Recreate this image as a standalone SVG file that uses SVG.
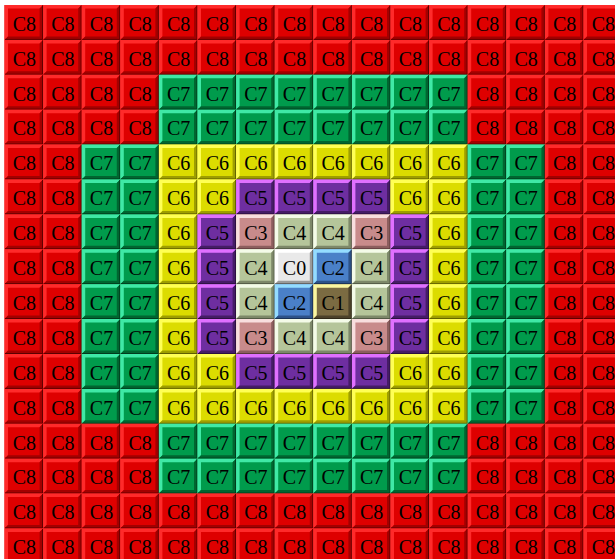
<svg xmlns="http://www.w3.org/2000/svg" xmlns:xlink="http://www.w3.org/1999/xlink" width="615" height="559" viewBox="0 0 615 559">
<style>
text{font-family:"Liberation Serif","Times New Roman",serif;font-size:20px;text-anchor:middle;fill:#000}
</style>
<defs>
<polygon id="hp" points="0,0 38.6,0 35.1,3.5 3.5,3.5 3.5,31.4 0,34.9"/>
<polygon id="sp" points="38.6,0 38.6,34.9 0,34.9 3.5,31.4 35.1,31.4 35.1,3.5"/>
<path id="ep" d="M38.1,0.5 V34.4 H0.5" fill="none" stroke-width="1"/>
<g id="c8"><rect width="38.6" height="34.9" fill="#de0000"/><use href="#hp" fill="#ff2a2a"/><use href="#sp" fill="#a30000"/><use href="#ep" stroke="#5a0000"/></g>
<g id="c7"><rect width="38.6" height="34.9" fill="#009b4c"/><use href="#hp" fill="#3fe9a6"/><use href="#sp" fill="#006530"/><use href="#ep" stroke="#003a1c"/></g>
<g id="c6"><rect width="38.6" height="34.9" fill="#dcdc00"/><use href="#hp" fill="#ffff55"/><use href="#sp" fill="#9e9e00"/><use href="#ep" stroke="#5e5e00"/></g>
<g id="c5"><rect width="38.6" height="34.9" fill="#6e2ea0"/><use href="#hp" fill="#e070ff"/><use href="#sp" fill="#451c66"/><use href="#ep" stroke="#2a103e"/></g>
<g id="c4"><rect width="38.6" height="34.9" fill="#b5c59a"/><use href="#hp" fill="#f4fbe8"/><use href="#sp" fill="#7d8869"/><use href="#ep" stroke="#4f5642"/></g>
<g id="c3"><rect width="38.6" height="34.9" fill="#c88b8b"/><use href="#hp" fill="#f8dede"/><use href="#sp" fill="#8c5e5e"/><use href="#ep" stroke="#5a3a3a"/></g>
<g id="c2"><rect width="38.6" height="34.9" fill="#4a80c8"/><use href="#hp" fill="#94dcff"/><use href="#sp" fill="#2d5288"/><use href="#ep" stroke="#1a3050"/></g>
<g id="c1"><rect width="38.6" height="34.9" fill="#7b6b42"/><use href="#hp" fill="#fbf6a0"/><use href="#sp" fill="#4c422a"/><use href="#ep" stroke="#2e2818"/></g>
<g id="c0"><rect width="38.6" height="34.9" fill="#e9e9e9"/><use href="#hp" fill="#ffffff"/><use href="#sp" fill="#9a9a9a"/><use href="#ep" stroke="#5a5a5a"/></g>
</defs>
<rect width="615" height="559" fill="#ffffff"/>
<g id="grid">
<g id="r0c0" transform="translate(4.5 5)"><use href="#c8"/><text x="19.8" y="25.8">C8</text></g>
<g id="r0c1" transform="translate(43.1 5)"><use href="#c8"/><text x="19.8" y="25.8">C8</text></g>
<g id="r0c2" transform="translate(81.7 5)"><use href="#c8"/><text x="19.8" y="25.8">C8</text></g>
<g id="r0c3" transform="translate(120.3 5)"><use href="#c8"/><text x="19.8" y="25.8">C8</text></g>
<g id="r0c4" transform="translate(158.9 5)"><use href="#c8"/><text x="19.8" y="25.8">C8</text></g>
<g id="r0c5" transform="translate(197.5 5)"><use href="#c8"/><text x="19.8" y="25.8">C8</text></g>
<g id="r0c6" transform="translate(236.1 5)"><use href="#c8"/><text x="19.8" y="25.8">C8</text></g>
<g id="r0c7" transform="translate(274.7 5)"><use href="#c8"/><text x="19.8" y="25.8">C8</text></g>
<g id="r0c8" transform="translate(313.3 5)"><use href="#c8"/><text x="19.8" y="25.8">C8</text></g>
<g id="r0c9" transform="translate(351.9 5)"><use href="#c8"/><text x="19.8" y="25.8">C8</text></g>
<g id="r0c10" transform="translate(390.5 5)"><use href="#c8"/><text x="19.8" y="25.8">C8</text></g>
<g id="r0c11" transform="translate(429.1 5)"><use href="#c8"/><text x="19.8" y="25.8">C8</text></g>
<g id="r0c12" transform="translate(467.7 5)"><use href="#c8"/><text x="19.8" y="25.8">C8</text></g>
<g id="r0c13" transform="translate(506.3 5)"><use href="#c8"/><text x="19.8" y="25.8">C8</text></g>
<g id="r0c14" transform="translate(544.9 5)"><use href="#c8"/><text x="19.8" y="25.8">C8</text></g>
<g id="r0c15" transform="translate(583.5 5)"><use href="#c8"/><text x="19.8" y="25.8">C8</text></g>

<g id="r1c0" transform="translate(4.5 39.9)"><use href="#c8"/><text x="19.8" y="25.8">C8</text></g>
<g id="r1c1" transform="translate(43.1 39.9)"><use href="#c8"/><text x="19.8" y="25.8">C8</text></g>
<g id="r1c2" transform="translate(81.7 39.9)"><use href="#c8"/><text x="19.8" y="25.8">C8</text></g>
<g id="r1c3" transform="translate(120.3 39.9)"><use href="#c8"/><text x="19.8" y="25.8">C8</text></g>
<g id="r1c4" transform="translate(158.9 39.9)"><use href="#c8"/><text x="19.8" y="25.8">C8</text></g>
<g id="r1c5" transform="translate(197.5 39.9)"><use href="#c8"/><text x="19.8" y="25.8">C8</text></g>
<g id="r1c6" transform="translate(236.1 39.9)"><use href="#c8"/><text x="19.8" y="25.8">C8</text></g>
<g id="r1c7" transform="translate(274.7 39.9)"><use href="#c8"/><text x="19.8" y="25.8">C8</text></g>
<g id="r1c8" transform="translate(313.3 39.9)"><use href="#c8"/><text x="19.8" y="25.8">C8</text></g>
<g id="r1c9" transform="translate(351.9 39.9)"><use href="#c8"/><text x="19.8" y="25.8">C8</text></g>
<g id="r1c10" transform="translate(390.5 39.9)"><use href="#c8"/><text x="19.8" y="25.8">C8</text></g>
<g id="r1c11" transform="translate(429.1 39.9)"><use href="#c8"/><text x="19.8" y="25.8">C8</text></g>
<g id="r1c12" transform="translate(467.7 39.9)"><use href="#c8"/><text x="19.8" y="25.8">C8</text></g>
<g id="r1c13" transform="translate(506.3 39.9)"><use href="#c8"/><text x="19.8" y="25.8">C8</text></g>
<g id="r1c14" transform="translate(544.9 39.9)"><use href="#c8"/><text x="19.8" y="25.8">C8</text></g>
<g id="r1c15" transform="translate(583.5 39.9)"><use href="#c8"/><text x="19.8" y="25.8">C8</text></g>

<g id="r2c0" transform="translate(4.5 74.8)"><use href="#c8"/><text x="19.8" y="25.8">C8</text></g>
<g id="r2c1" transform="translate(43.1 74.8)"><use href="#c8"/><text x="19.8" y="25.8">C8</text></g>
<g id="r2c2" transform="translate(81.7 74.8)"><use href="#c8"/><text x="19.8" y="25.8">C8</text></g>
<g id="r2c3" transform="translate(120.3 74.8)"><use href="#c8"/><text x="19.8" y="25.8">C8</text></g>
<g id="r2c4" transform="translate(158.9 74.8)"><use href="#c7"/><text x="19.8" y="25.8">C7</text></g>
<g id="r2c5" transform="translate(197.5 74.8)"><use href="#c7"/><text x="19.8" y="25.8">C7</text></g>
<g id="r2c6" transform="translate(236.1 74.8)"><use href="#c7"/><text x="19.8" y="25.8">C7</text></g>
<g id="r2c7" transform="translate(274.7 74.8)"><use href="#c7"/><text x="19.8" y="25.8">C7</text></g>
<g id="r2c8" transform="translate(313.3 74.8)"><use href="#c7"/><text x="19.8" y="25.8">C7</text></g>
<g id="r2c9" transform="translate(351.9 74.8)"><use href="#c7"/><text x="19.8" y="25.8">C7</text></g>
<g id="r2c10" transform="translate(390.5 74.8)"><use href="#c7"/><text x="19.8" y="25.8">C7</text></g>
<g id="r2c11" transform="translate(429.1 74.8)"><use href="#c7"/><text x="19.8" y="25.8">C7</text></g>
<g id="r2c12" transform="translate(467.7 74.8)"><use href="#c8"/><text x="19.8" y="25.8">C8</text></g>
<g id="r2c13" transform="translate(506.3 74.8)"><use href="#c8"/><text x="19.8" y="25.8">C8</text></g>
<g id="r2c14" transform="translate(544.9 74.8)"><use href="#c8"/><text x="19.8" y="25.8">C8</text></g>
<g id="r2c15" transform="translate(583.5 74.8)"><use href="#c8"/><text x="19.8" y="25.8">C8</text></g>

<g id="r3c0" transform="translate(4.5 109.7)"><use href="#c8"/><text x="19.8" y="25.8">C8</text></g>
<g id="r3c1" transform="translate(43.1 109.7)"><use href="#c8"/><text x="19.8" y="25.8">C8</text></g>
<g id="r3c2" transform="translate(81.7 109.7)"><use href="#c8"/><text x="19.8" y="25.8">C8</text></g>
<g id="r3c3" transform="translate(120.3 109.7)"><use href="#c8"/><text x="19.8" y="25.8">C8</text></g>
<g id="r3c4" transform="translate(158.9 109.7)"><use href="#c7"/><text x="19.8" y="25.8">C7</text></g>
<g id="r3c5" transform="translate(197.5 109.7)"><use href="#c7"/><text x="19.8" y="25.8">C7</text></g>
<g id="r3c6" transform="translate(236.1 109.7)"><use href="#c7"/><text x="19.8" y="25.8">C7</text></g>
<g id="r3c7" transform="translate(274.7 109.7)"><use href="#c7"/><text x="19.8" y="25.8">C7</text></g>
<g id="r3c8" transform="translate(313.3 109.7)"><use href="#c7"/><text x="19.8" y="25.8">C7</text></g>
<g id="r3c9" transform="translate(351.9 109.7)"><use href="#c7"/><text x="19.8" y="25.8">C7</text></g>
<g id="r3c10" transform="translate(390.5 109.7)"><use href="#c7"/><text x="19.8" y="25.8">C7</text></g>
<g id="r3c11" transform="translate(429.1 109.7)"><use href="#c7"/><text x="19.8" y="25.8">C7</text></g>
<g id="r3c12" transform="translate(467.7 109.7)"><use href="#c8"/><text x="19.8" y="25.8">C8</text></g>
<g id="r3c13" transform="translate(506.3 109.7)"><use href="#c8"/><text x="19.8" y="25.8">C8</text></g>
<g id="r3c14" transform="translate(544.9 109.7)"><use href="#c8"/><text x="19.8" y="25.8">C8</text></g>
<g id="r3c15" transform="translate(583.5 109.7)"><use href="#c8"/><text x="19.8" y="25.8">C8</text></g>

<g id="r4c0" transform="translate(4.5 144.6)"><use href="#c8"/><text x="19.8" y="25.8">C8</text></g>
<g id="r4c1" transform="translate(43.1 144.6)"><use href="#c8"/><text x="19.8" y="25.8">C8</text></g>
<g id="r4c2" transform="translate(81.7 144.6)"><use href="#c7"/><text x="19.8" y="25.8">C7</text></g>
<g id="r4c3" transform="translate(120.3 144.6)"><use href="#c7"/><text x="19.8" y="25.8">C7</text></g>
<g id="r4c4" transform="translate(158.9 144.6)"><use href="#c6"/><text x="19.8" y="25.8">C6</text></g>
<g id="r4c5" transform="translate(197.5 144.6)"><use href="#c6"/><text x="19.8" y="25.8">C6</text></g>
<g id="r4c6" transform="translate(236.1 144.6)"><use href="#c6"/><text x="19.8" y="25.8">C6</text></g>
<g id="r4c7" transform="translate(274.7 144.6)"><use href="#c6"/><text x="19.8" y="25.8">C6</text></g>
<g id="r4c8" transform="translate(313.3 144.6)"><use href="#c6"/><text x="19.8" y="25.8">C6</text></g>
<g id="r4c9" transform="translate(351.9 144.6)"><use href="#c6"/><text x="19.8" y="25.8">C6</text></g>
<g id="r4c10" transform="translate(390.5 144.6)"><use href="#c6"/><text x="19.8" y="25.8">C6</text></g>
<g id="r4c11" transform="translate(429.1 144.6)"><use href="#c6"/><text x="19.8" y="25.8">C6</text></g>
<g id="r4c12" transform="translate(467.7 144.6)"><use href="#c7"/><text x="19.8" y="25.8">C7</text></g>
<g id="r4c13" transform="translate(506.3 144.6)"><use href="#c7"/><text x="19.8" y="25.8">C7</text></g>
<g id="r4c14" transform="translate(544.9 144.6)"><use href="#c8"/><text x="19.8" y="25.8">C8</text></g>
<g id="r4c15" transform="translate(583.5 144.6)"><use href="#c8"/><text x="19.8" y="25.8">C8</text></g>

<g id="r5c0" transform="translate(4.5 179.5)"><use href="#c8"/><text x="19.8" y="25.8">C8</text></g>
<g id="r5c1" transform="translate(43.1 179.5)"><use href="#c8"/><text x="19.8" y="25.8">C8</text></g>
<g id="r5c2" transform="translate(81.7 179.5)"><use href="#c7"/><text x="19.8" y="25.8">C7</text></g>
<g id="r5c3" transform="translate(120.3 179.5)"><use href="#c7"/><text x="19.8" y="25.8">C7</text></g>
<g id="r5c4" transform="translate(158.9 179.5)"><use href="#c6"/><text x="19.8" y="25.8">C6</text></g>
<g id="r5c5" transform="translate(197.5 179.5)"><use href="#c6"/><text x="19.8" y="25.8">C6</text></g>
<g id="r5c6" transform="translate(236.1 179.5)"><use href="#c5"/><text x="19.8" y="25.8">C5</text></g>
<g id="r5c7" transform="translate(274.7 179.5)"><use href="#c5"/><text x="19.8" y="25.8">C5</text></g>
<g id="r5c8" transform="translate(313.3 179.5)"><use href="#c5"/><text x="19.8" y="25.8">C5</text></g>
<g id="r5c9" transform="translate(351.9 179.5)"><use href="#c5"/><text x="19.8" y="25.8">C5</text></g>
<g id="r5c10" transform="translate(390.5 179.5)"><use href="#c6"/><text x="19.8" y="25.8">C6</text></g>
<g id="r5c11" transform="translate(429.1 179.5)"><use href="#c6"/><text x="19.8" y="25.8">C6</text></g>
<g id="r5c12" transform="translate(467.7 179.5)"><use href="#c7"/><text x="19.8" y="25.8">C7</text></g>
<g id="r5c13" transform="translate(506.3 179.5)"><use href="#c7"/><text x="19.8" y="25.8">C7</text></g>
<g id="r5c14" transform="translate(544.9 179.5)"><use href="#c8"/><text x="19.8" y="25.8">C8</text></g>
<g id="r5c15" transform="translate(583.5 179.5)"><use href="#c8"/><text x="19.8" y="25.8">C8</text></g>

<g id="r6c0" transform="translate(4.5 214.4)"><use href="#c8"/><text x="19.8" y="25.8">C8</text></g>
<g id="r6c1" transform="translate(43.1 214.4)"><use href="#c8"/><text x="19.8" y="25.8">C8</text></g>
<g id="r6c2" transform="translate(81.7 214.4)"><use href="#c7"/><text x="19.8" y="25.8">C7</text></g>
<g id="r6c3" transform="translate(120.3 214.4)"><use href="#c7"/><text x="19.8" y="25.8">C7</text></g>
<g id="r6c4" transform="translate(158.9 214.4)"><use href="#c6"/><text x="19.8" y="25.8">C6</text></g>
<g id="r6c5" transform="translate(197.5 214.4)"><use href="#c5"/><text x="19.8" y="25.8">C5</text></g>
<g id="r6c6" transform="translate(236.1 214.4)"><use href="#c3"/><text x="19.8" y="25.8">C3</text></g>
<g id="r6c7" transform="translate(274.7 214.4)"><use href="#c4"/><text x="19.8" y="25.8">C4</text></g>
<g id="r6c8" transform="translate(313.3 214.4)"><use href="#c4"/><text x="19.8" y="25.8">C4</text></g>
<g id="r6c9" transform="translate(351.9 214.4)"><use href="#c3"/><text x="19.8" y="25.8">C3</text></g>
<g id="r6c10" transform="translate(390.5 214.4)"><use href="#c5"/><text x="19.8" y="25.8">C5</text></g>
<g id="r6c11" transform="translate(429.1 214.4)"><use href="#c6"/><text x="19.8" y="25.8">C6</text></g>
<g id="r6c12" transform="translate(467.7 214.4)"><use href="#c7"/><text x="19.8" y="25.8">C7</text></g>
<g id="r6c13" transform="translate(506.3 214.4)"><use href="#c7"/><text x="19.8" y="25.8">C7</text></g>
<g id="r6c14" transform="translate(544.9 214.4)"><use href="#c8"/><text x="19.8" y="25.8">C8</text></g>
<g id="r6c15" transform="translate(583.5 214.4)"><use href="#c8"/><text x="19.8" y="25.8">C8</text></g>

<g id="r7c0" transform="translate(4.5 249.3)"><use href="#c8"/><text x="19.8" y="25.8">C8</text></g>
<g id="r7c1" transform="translate(43.1 249.3)"><use href="#c8"/><text x="19.8" y="25.8">C8</text></g>
<g id="r7c2" transform="translate(81.7 249.3)"><use href="#c7"/><text x="19.8" y="25.8">C7</text></g>
<g id="r7c3" transform="translate(120.3 249.3)"><use href="#c7"/><text x="19.8" y="25.8">C7</text></g>
<g id="r7c4" transform="translate(158.9 249.3)"><use href="#c6"/><text x="19.8" y="25.8">C6</text></g>
<g id="r7c5" transform="translate(197.5 249.3)"><use href="#c5"/><text x="19.8" y="25.8">C5</text></g>
<g id="r7c6" transform="translate(236.1 249.3)"><use href="#c4"/><text x="19.8" y="25.8">C4</text></g>
<g id="r7c7" transform="translate(274.7 249.3)"><use href="#c0"/><text x="19.8" y="25.8">C0</text></g>
<g id="r7c8" transform="translate(313.3 249.3)"><use href="#c2"/><text x="19.8" y="25.8">C2</text></g>
<g id="r7c9" transform="translate(351.9 249.3)"><use href="#c4"/><text x="19.8" y="25.8">C4</text></g>
<g id="r7c10" transform="translate(390.5 249.3)"><use href="#c5"/><text x="19.8" y="25.8">C5</text></g>
<g id="r7c11" transform="translate(429.1 249.3)"><use href="#c6"/><text x="19.8" y="25.8">C6</text></g>
<g id="r7c12" transform="translate(467.7 249.3)"><use href="#c7"/><text x="19.8" y="25.8">C7</text></g>
<g id="r7c13" transform="translate(506.3 249.3)"><use href="#c7"/><text x="19.8" y="25.8">C7</text></g>
<g id="r7c14" transform="translate(544.9 249.3)"><use href="#c8"/><text x="19.8" y="25.8">C8</text></g>
<g id="r7c15" transform="translate(583.5 249.3)"><use href="#c8"/><text x="19.8" y="25.8">C8</text></g>

<g id="r8c0" transform="translate(4.5 284.2)"><use href="#c8"/><text x="19.8" y="25.8">C8</text></g>
<g id="r8c1" transform="translate(43.1 284.2)"><use href="#c8"/><text x="19.8" y="25.8">C8</text></g>
<g id="r8c2" transform="translate(81.7 284.2)"><use href="#c7"/><text x="19.8" y="25.8">C7</text></g>
<g id="r8c3" transform="translate(120.3 284.2)"><use href="#c7"/><text x="19.8" y="25.8">C7</text></g>
<g id="r8c4" transform="translate(158.9 284.2)"><use href="#c6"/><text x="19.8" y="25.8">C6</text></g>
<g id="r8c5" transform="translate(197.5 284.2)"><use href="#c5"/><text x="19.8" y="25.8">C5</text></g>
<g id="r8c6" transform="translate(236.1 284.2)"><use href="#c4"/><text x="19.8" y="25.8">C4</text></g>
<g id="r8c7" transform="translate(274.7 284.2)"><use href="#c2"/><text x="19.8" y="25.8">C2</text></g>
<g id="r8c8" transform="translate(313.3 284.2)"><use href="#c1"/><text x="19.8" y="25.8">C1</text></g>
<g id="r8c9" transform="translate(351.9 284.2)"><use href="#c4"/><text x="19.8" y="25.8">C4</text></g>
<g id="r8c10" transform="translate(390.5 284.2)"><use href="#c5"/><text x="19.8" y="25.8">C5</text></g>
<g id="r8c11" transform="translate(429.1 284.2)"><use href="#c6"/><text x="19.8" y="25.8">C6</text></g>
<g id="r8c12" transform="translate(467.7 284.2)"><use href="#c7"/><text x="19.8" y="25.8">C7</text></g>
<g id="r8c13" transform="translate(506.3 284.2)"><use href="#c7"/><text x="19.8" y="25.8">C7</text></g>
<g id="r8c14" transform="translate(544.9 284.2)"><use href="#c8"/><text x="19.8" y="25.8">C8</text></g>
<g id="r8c15" transform="translate(583.5 284.2)"><use href="#c8"/><text x="19.8" y="25.8">C8</text></g>

<g id="r9c0" transform="translate(4.5 319.1)"><use href="#c8"/><text x="19.8" y="25.8">C8</text></g>
<g id="r9c1" transform="translate(43.1 319.1)"><use href="#c8"/><text x="19.8" y="25.8">C8</text></g>
<g id="r9c2" transform="translate(81.7 319.1)"><use href="#c7"/><text x="19.8" y="25.8">C7</text></g>
<g id="r9c3" transform="translate(120.3 319.1)"><use href="#c7"/><text x="19.8" y="25.8">C7</text></g>
<g id="r9c4" transform="translate(158.9 319.1)"><use href="#c6"/><text x="19.8" y="25.8">C6</text></g>
<g id="r9c5" transform="translate(197.5 319.1)"><use href="#c5"/><text x="19.8" y="25.8">C5</text></g>
<g id="r9c6" transform="translate(236.1 319.1)"><use href="#c3"/><text x="19.8" y="25.8">C3</text></g>
<g id="r9c7" transform="translate(274.7 319.1)"><use href="#c4"/><text x="19.8" y="25.8">C4</text></g>
<g id="r9c8" transform="translate(313.3 319.1)"><use href="#c4"/><text x="19.8" y="25.8">C4</text></g>
<g id="r9c9" transform="translate(351.9 319.1)"><use href="#c3"/><text x="19.8" y="25.8">C3</text></g>
<g id="r9c10" transform="translate(390.5 319.1)"><use href="#c5"/><text x="19.8" y="25.8">C5</text></g>
<g id="r9c11" transform="translate(429.1 319.1)"><use href="#c6"/><text x="19.8" y="25.8">C6</text></g>
<g id="r9c12" transform="translate(467.7 319.1)"><use href="#c7"/><text x="19.8" y="25.8">C7</text></g>
<g id="r9c13" transform="translate(506.3 319.1)"><use href="#c7"/><text x="19.8" y="25.8">C7</text></g>
<g id="r9c14" transform="translate(544.9 319.1)"><use href="#c8"/><text x="19.8" y="25.8">C8</text></g>
<g id="r9c15" transform="translate(583.5 319.1)"><use href="#c8"/><text x="19.8" y="25.8">C8</text></g>

<g id="r10c0" transform="translate(4.5 354)"><use href="#c8"/><text x="19.8" y="25.8">C8</text></g>
<g id="r10c1" transform="translate(43.1 354)"><use href="#c8"/><text x="19.8" y="25.8">C8</text></g>
<g id="r10c2" transform="translate(81.7 354)"><use href="#c7"/><text x="19.8" y="25.8">C7</text></g>
<g id="r10c3" transform="translate(120.3 354)"><use href="#c7"/><text x="19.8" y="25.8">C7</text></g>
<g id="r10c4" transform="translate(158.9 354)"><use href="#c6"/><text x="19.8" y="25.8">C6</text></g>
<g id="r10c5" transform="translate(197.5 354)"><use href="#c6"/><text x="19.8" y="25.8">C6</text></g>
<g id="r10c6" transform="translate(236.1 354)"><use href="#c5"/><text x="19.8" y="25.8">C5</text></g>
<g id="r10c7" transform="translate(274.7 354)"><use href="#c5"/><text x="19.8" y="25.8">C5</text></g>
<g id="r10c8" transform="translate(313.3 354)"><use href="#c5"/><text x="19.8" y="25.8">C5</text></g>
<g id="r10c9" transform="translate(351.9 354)"><use href="#c5"/><text x="19.8" y="25.8">C5</text></g>
<g id="r10c10" transform="translate(390.5 354)"><use href="#c6"/><text x="19.8" y="25.8">C6</text></g>
<g id="r10c11" transform="translate(429.1 354)"><use href="#c6"/><text x="19.8" y="25.8">C6</text></g>
<g id="r10c12" transform="translate(467.7 354)"><use href="#c7"/><text x="19.8" y="25.8">C7</text></g>
<g id="r10c13" transform="translate(506.3 354)"><use href="#c7"/><text x="19.8" y="25.8">C7</text></g>
<g id="r10c14" transform="translate(544.9 354)"><use href="#c8"/><text x="19.8" y="25.8">C8</text></g>
<g id="r10c15" transform="translate(583.5 354)"><use href="#c8"/><text x="19.8" y="25.8">C8</text></g>

<g id="r11c0" transform="translate(4.5 388.9)"><use href="#c8"/><text x="19.8" y="25.8">C8</text></g>
<g id="r11c1" transform="translate(43.1 388.9)"><use href="#c8"/><text x="19.8" y="25.8">C8</text></g>
<g id="r11c2" transform="translate(81.7 388.9)"><use href="#c7"/><text x="19.8" y="25.8">C7</text></g>
<g id="r11c3" transform="translate(120.3 388.9)"><use href="#c7"/><text x="19.8" y="25.8">C7</text></g>
<g id="r11c4" transform="translate(158.9 388.9)"><use href="#c6"/><text x="19.8" y="25.8">C6</text></g>
<g id="r11c5" transform="translate(197.5 388.9)"><use href="#c6"/><text x="19.8" y="25.8">C6</text></g>
<g id="r11c6" transform="translate(236.1 388.9)"><use href="#c6"/><text x="19.8" y="25.8">C6</text></g>
<g id="r11c7" transform="translate(274.7 388.9)"><use href="#c6"/><text x="19.8" y="25.8">C6</text></g>
<g id="r11c8" transform="translate(313.3 388.9)"><use href="#c6"/><text x="19.8" y="25.8">C6</text></g>
<g id="r11c9" transform="translate(351.9 388.9)"><use href="#c6"/><text x="19.8" y="25.8">C6</text></g>
<g id="r11c10" transform="translate(390.5 388.9)"><use href="#c6"/><text x="19.8" y="25.8">C6</text></g>
<g id="r11c11" transform="translate(429.1 388.9)"><use href="#c6"/><text x="19.8" y="25.8">C6</text></g>
<g id="r11c12" transform="translate(467.7 388.9)"><use href="#c7"/><text x="19.8" y="25.8">C7</text></g>
<g id="r11c13" transform="translate(506.3 388.9)"><use href="#c7"/><text x="19.8" y="25.8">C7</text></g>
<g id="r11c14" transform="translate(544.9 388.9)"><use href="#c8"/><text x="19.8" y="25.8">C8</text></g>
<g id="r11c15" transform="translate(583.5 388.9)"><use href="#c8"/><text x="19.8" y="25.8">C8</text></g>

<g id="r12c0" transform="translate(4.5 423.8)"><use href="#c8"/><text x="19.8" y="25.8">C8</text></g>
<g id="r12c1" transform="translate(43.1 423.8)"><use href="#c8"/><text x="19.8" y="25.8">C8</text></g>
<g id="r12c2" transform="translate(81.7 423.8)"><use href="#c8"/><text x="19.8" y="25.8">C8</text></g>
<g id="r12c3" transform="translate(120.3 423.8)"><use href="#c8"/><text x="19.8" y="25.8">C8</text></g>
<g id="r12c4" transform="translate(158.9 423.8)"><use href="#c7"/><text x="19.8" y="25.8">C7</text></g>
<g id="r12c5" transform="translate(197.5 423.8)"><use href="#c7"/><text x="19.8" y="25.8">C7</text></g>
<g id="r12c6" transform="translate(236.1 423.8)"><use href="#c7"/><text x="19.8" y="25.8">C7</text></g>
<g id="r12c7" transform="translate(274.7 423.8)"><use href="#c7"/><text x="19.8" y="25.8">C7</text></g>
<g id="r12c8" transform="translate(313.3 423.8)"><use href="#c7"/><text x="19.8" y="25.8">C7</text></g>
<g id="r12c9" transform="translate(351.9 423.8)"><use href="#c7"/><text x="19.8" y="25.8">C7</text></g>
<g id="r12c10" transform="translate(390.5 423.8)"><use href="#c7"/><text x="19.8" y="25.8">C7</text></g>
<g id="r12c11" transform="translate(429.1 423.8)"><use href="#c7"/><text x="19.8" y="25.8">C7</text></g>
<g id="r12c12" transform="translate(467.7 423.8)"><use href="#c8"/><text x="19.8" y="25.8">C8</text></g>
<g id="r12c13" transform="translate(506.3 423.8)"><use href="#c8"/><text x="19.8" y="25.8">C8</text></g>
<g id="r12c14" transform="translate(544.9 423.8)"><use href="#c8"/><text x="19.8" y="25.8">C8</text></g>
<g id="r12c15" transform="translate(583.5 423.8)"><use href="#c8"/><text x="19.8" y="25.8">C8</text></g>

<g id="r13c0" transform="translate(4.5 458.7)"><use href="#c8"/><text x="19.8" y="25.8">C8</text></g>
<g id="r13c1" transform="translate(43.1 458.7)"><use href="#c8"/><text x="19.8" y="25.8">C8</text></g>
<g id="r13c2" transform="translate(81.7 458.7)"><use href="#c8"/><text x="19.8" y="25.8">C8</text></g>
<g id="r13c3" transform="translate(120.3 458.7)"><use href="#c8"/><text x="19.8" y="25.8">C8</text></g>
<g id="r13c4" transform="translate(158.9 458.7)"><use href="#c7"/><text x="19.8" y="25.8">C7</text></g>
<g id="r13c5" transform="translate(197.5 458.7)"><use href="#c7"/><text x="19.8" y="25.8">C7</text></g>
<g id="r13c6" transform="translate(236.1 458.7)"><use href="#c7"/><text x="19.8" y="25.8">C7</text></g>
<g id="r13c7" transform="translate(274.7 458.7)"><use href="#c7"/><text x="19.8" y="25.8">C7</text></g>
<g id="r13c8" transform="translate(313.3 458.7)"><use href="#c7"/><text x="19.8" y="25.8">C7</text></g>
<g id="r13c9" transform="translate(351.9 458.7)"><use href="#c7"/><text x="19.8" y="25.8">C7</text></g>
<g id="r13c10" transform="translate(390.5 458.7)"><use href="#c7"/><text x="19.8" y="25.8">C7</text></g>
<g id="r13c11" transform="translate(429.1 458.7)"><use href="#c7"/><text x="19.8" y="25.8">C7</text></g>
<g id="r13c12" transform="translate(467.7 458.7)"><use href="#c8"/><text x="19.8" y="25.8">C8</text></g>
<g id="r13c13" transform="translate(506.3 458.7)"><use href="#c8"/><text x="19.8" y="25.8">C8</text></g>
<g id="r13c14" transform="translate(544.9 458.7)"><use href="#c8"/><text x="19.8" y="25.8">C8</text></g>
<g id="r13c15" transform="translate(583.5 458.7)"><use href="#c8"/><text x="19.8" y="25.8">C8</text></g>

<g id="r14c0" transform="translate(4.5 493.6)"><use href="#c8"/><text x="19.8" y="25.8">C8</text></g>
<g id="r14c1" transform="translate(43.1 493.6)"><use href="#c8"/><text x="19.8" y="25.8">C8</text></g>
<g id="r14c2" transform="translate(81.7 493.6)"><use href="#c8"/><text x="19.8" y="25.8">C8</text></g>
<g id="r14c3" transform="translate(120.3 493.6)"><use href="#c8"/><text x="19.8" y="25.8">C8</text></g>
<g id="r14c4" transform="translate(158.9 493.6)"><use href="#c8"/><text x="19.8" y="25.8">C8</text></g>
<g id="r14c5" transform="translate(197.5 493.6)"><use href="#c8"/><text x="19.8" y="25.8">C8</text></g>
<g id="r14c6" transform="translate(236.1 493.6)"><use href="#c8"/><text x="19.8" y="25.8">C8</text></g>
<g id="r14c7" transform="translate(274.7 493.6)"><use href="#c8"/><text x="19.8" y="25.8">C8</text></g>
<g id="r14c8" transform="translate(313.3 493.6)"><use href="#c8"/><text x="19.8" y="25.8">C8</text></g>
<g id="r14c9" transform="translate(351.9 493.6)"><use href="#c8"/><text x="19.8" y="25.8">C8</text></g>
<g id="r14c10" transform="translate(390.5 493.6)"><use href="#c8"/><text x="19.8" y="25.8">C8</text></g>
<g id="r14c11" transform="translate(429.1 493.6)"><use href="#c8"/><text x="19.8" y="25.8">C8</text></g>
<g id="r14c12" transform="translate(467.7 493.6)"><use href="#c8"/><text x="19.8" y="25.8">C8</text></g>
<g id="r14c13" transform="translate(506.3 493.6)"><use href="#c8"/><text x="19.8" y="25.8">C8</text></g>
<g id="r14c14" transform="translate(544.9 493.6)"><use href="#c8"/><text x="19.8" y="25.8">C8</text></g>
<g id="r14c15" transform="translate(583.5 493.6)"><use href="#c8"/><text x="19.8" y="25.8">C8</text></g>

<g id="r15c0" transform="translate(4.5 528.5)"><use href="#c8"/><text x="19.8" y="25.8">C8</text></g>
<g id="r15c1" transform="translate(43.1 528.5)"><use href="#c8"/><text x="19.8" y="25.8">C8</text></g>
<g id="r15c2" transform="translate(81.7 528.5)"><use href="#c8"/><text x="19.8" y="25.8">C8</text></g>
<g id="r15c3" transform="translate(120.3 528.5)"><use href="#c8"/><text x="19.8" y="25.8">C8</text></g>
<g id="r15c4" transform="translate(158.9 528.5)"><use href="#c8"/><text x="19.8" y="25.8">C8</text></g>
<g id="r15c5" transform="translate(197.5 528.5)"><use href="#c8"/><text x="19.8" y="25.8">C8</text></g>
<g id="r15c6" transform="translate(236.1 528.5)"><use href="#c8"/><text x="19.8" y="25.8">C8</text></g>
<g id="r15c7" transform="translate(274.7 528.5)"><use href="#c8"/><text x="19.8" y="25.8">C8</text></g>
<g id="r15c8" transform="translate(313.3 528.5)"><use href="#c8"/><text x="19.8" y="25.8">C8</text></g>
<g id="r15c9" transform="translate(351.9 528.5)"><use href="#c8"/><text x="19.8" y="25.8">C8</text></g>
<g id="r15c10" transform="translate(390.5 528.5)"><use href="#c8"/><text x="19.8" y="25.8">C8</text></g>
<g id="r15c11" transform="translate(429.1 528.5)"><use href="#c8"/><text x="19.8" y="25.8">C8</text></g>
<g id="r15c12" transform="translate(467.7 528.5)"><use href="#c8"/><text x="19.8" y="25.8">C8</text></g>
<g id="r15c13" transform="translate(506.3 528.5)"><use href="#c8"/><text x="19.8" y="25.8">C8</text></g>
<g id="r15c14" transform="translate(544.9 528.5)"><use href="#c8"/><text x="19.8" y="25.8">C8</text></g>
<g id="r15c15" transform="translate(583.5 528.5)"><use href="#c8"/><text x="19.8" y="25.8">C8</text></g>
</g>
</svg>
